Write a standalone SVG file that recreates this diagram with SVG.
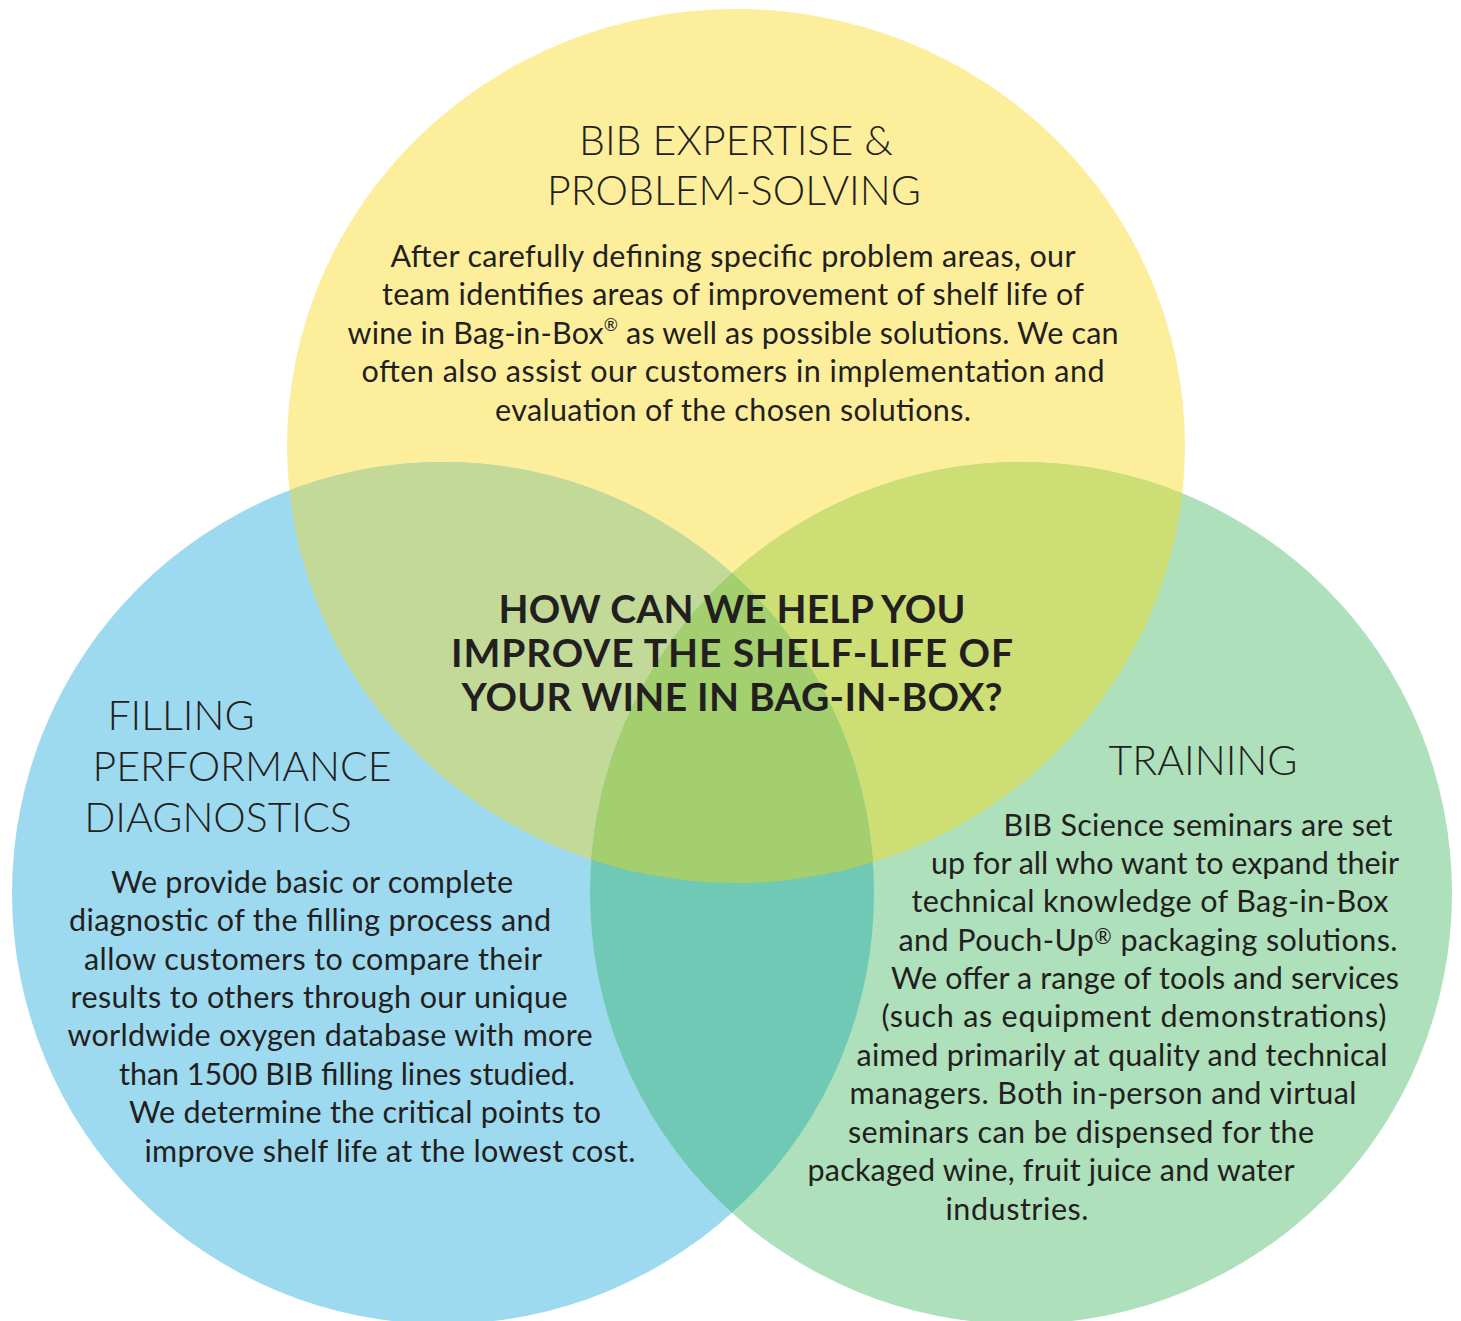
<svg xmlns="http://www.w3.org/2000/svg" width="1461" height="1321" viewBox="0 0 1461 1321">
<style>
.h{font-family:Lato,"Liberation Sans",sans-serif;font-weight:300;font-size:41px;fill:#231F20;text-anchor:middle}
.b{font-family:Lato,"Liberation Sans",sans-serif;font-weight:400;font-size:30.5px;fill:#231F20;text-anchor:middle}
.q{font-family:Lato,"Liberation Sans",sans-serif;font-weight:700;font-size:39px;fill:#231F20;text-anchor:middle}
</style>
<defs>
<ellipse id="cy" cx="736" cy="446" rx="449" ry="437"/>
<circle id="cb" cx="443" cy="893" r="431"/>
<circle id="cg" cx="1021" cy="893" r="431"/>
<clipPath id="clipY"><use href="#cy"/></clipPath>
<clipPath id="clipB"><use href="#cb"/></clipPath>
</defs>
<rect width="1461" height="1321" fill="#FFFFFF"/>
<g id="circles">
<use href="#cy" fill="#FDEE9C"/>
<use href="#cb" fill="#9DDAF0"/>
<use href="#cg" fill="#ADE0BB"/>
<use href="#cb" fill="#C2D998" clip-path="url(#clipY)"/>
<use href="#cg" fill="#CCDE74" clip-path="url(#clipY)"/>
<use href="#cg" fill="#70C9B5" clip-path="url(#clipB)"/>
<g clip-path="url(#clipY)"><use href="#cg" fill="#A3CF6E" clip-path="url(#clipB)"/></g>
</g>
<g id="node-expertise">
<text class="h" x="736" y="155">BIB EXPERTISE &amp;</text>
<text class="h" x="734" y="205">PROBLEM-SOLVING</text>
<text class="b" x="733" y="267" textLength="685" lengthAdjust="spacing">After carefully defining specific problem areas, our</text>
<text class="b" x="733" y="305" textLength="702" lengthAdjust="spacing">team identifies areas of improvement of shelf life of</text>
<text class="b" x="733" y="344" textLength="771" lengthAdjust="spacing">wine in Bag-in-Box<tspan font-size="17" dy="-13">®</tspan><tspan dy="13"> as well as possible solutions. We can</tspan></text>
<text class="b" x="733" y="382" textLength="743" lengthAdjust="spacing">often also assist our customers in implementation and</text>
<text class="b" x="733" y="421" textLength="476" lengthAdjust="spacing">evaluation of the chosen solutions.</text>
</g>
<g id="node-question">
<text class="q" x="732" y="623" textLength="467" lengthAdjust="spacing">HOW CAN WE HELP YOU</text>
<text class="q" x="732" y="667" textLength="562" lengthAdjust="spacing">IMPROVE THE SHELF-LIFE OF</text>
<text class="q" x="732" y="711" textLength="541" lengthAdjust="spacing">YOUR WINE IN BAG-IN-BOX?</text>
</g>
<g id="node-filling">
<text class="h" x="181" y="730">FILLING</text>
<text class="h" x="242" y="781">PERFORMANCE</text>
<text class="h" x="218" y="832">DIAGNOSTICS</text>
<text class="b" x="312" y="893" textLength="402" lengthAdjust="spacing">We provide basic or complete</text>
<text class="b" x="310" y="931" textLength="482" lengthAdjust="spacing">diagnostic of the filling process and</text>
<text class="b" x="313" y="970" textLength="458" lengthAdjust="spacing">allow customers to compare their</text>
<text class="b" x="319" y="1008" textLength="497" lengthAdjust="spacing">results to others through our unique</text>
<text class="b" x="330" y="1046" textLength="525" lengthAdjust="spacing">worldwide oxygen database with more</text>
<text class="b" x="347" y="1085" textLength="456" lengthAdjust="spacing">than 1500 BIB filling lines studied.</text>
<text class="b" x="365" y="1123" textLength="472" lengthAdjust="spacing">We determine the critical points to</text>
<text class="b" x="390" y="1162" textLength="491" lengthAdjust="spacing">improve shelf life at the lowest cost.</text>
</g>
<g id="node-training">
<text class="h" x="1203" y="775">TRAINING</text>
<text class="b" x="1198" y="836" textLength="389" lengthAdjust="spacing">BIB Science seminars are set</text>
<text class="b" x="1165" y="874" textLength="468" lengthAdjust="spacing">up for all who want to expand their</text>
<text class="b" x="1150" y="912" textLength="477" lengthAdjust="spacing">technical knowledge of Bag-in-Box</text>
<text class="b" x="1148" y="951" textLength="499" lengthAdjust="spacing">and Pouch-Up<tspan font-size="21" dy="-7">®</tspan><tspan dy="7"> packaging solutions.</tspan></text>
<text class="b" x="1145" y="989" textLength="508" lengthAdjust="spacing">We offer a range of tools and services</text>
<text class="b" x="1134" y="1027" textLength="505" lengthAdjust="spacing">(such as equipment demonstrations)</text>
<text class="b" x="1122" y="1066" textLength="531" lengthAdjust="spacing">aimed primarily at quality and technical</text>
<text class="b" x="1103" y="1104" textLength="507" lengthAdjust="spacing">managers. Both in-person and virtual</text>
<text class="b" x="1081" y="1143" textLength="466" lengthAdjust="spacing">seminars can be dispensed for the</text>
<text class="b" x="1051" y="1181" textLength="487" lengthAdjust="spacing">packaged wine, fruit juice and water</text>
<text class="b" x="1017" y="1220" textLength="143" lengthAdjust="spacing">industries.</text>
</g>
</svg>
